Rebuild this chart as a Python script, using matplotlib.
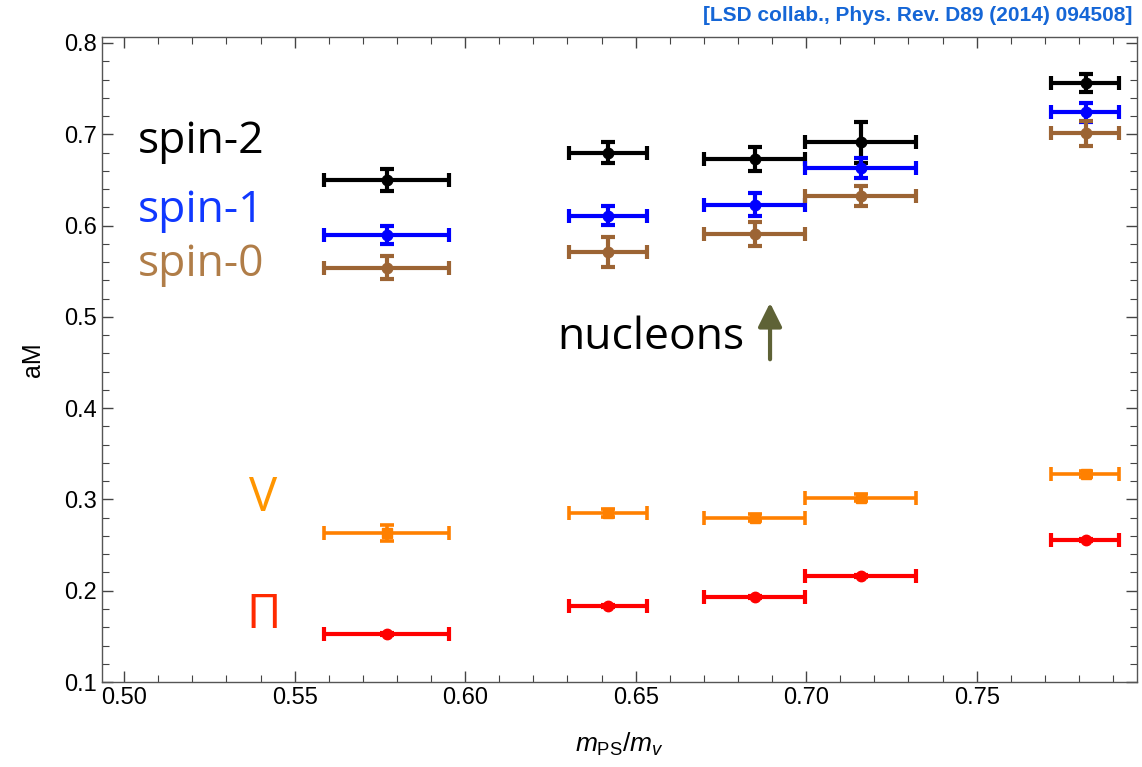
import matplotlib
matplotlib.use("Agg")
import matplotlib.pyplot as plt
from matplotlib.ticker import MultipleLocator, FormatStrFormatter

plt.rcParams['font.family'] = ['Liberation Sans', 'DejaVu Sans']
plt.rcParams['mathtext.fontset'] = 'custom'
plt.rcParams['mathtext.it'] = 'Liberation Sans:italic'
plt.rcParams['mathtext.rm'] = 'Liberation Sans'

# m_PS/m_V for the five ensembles, with the edges of the horizontal bars
x_mid = [0.577, 0.642, 0.685, 0.716, 0.782]
x_lo = [0.5587, 0.6305, 0.6701, 0.6997, 0.7718]
x_hi = [0.5953, 0.6534, 0.6997, 0.7322, 0.7918]

# baryon masses
spin2 = [0.650, 0.680, 0.673, 0.691, 0.756]
spin2_err = [0.012, 0.012, 0.013, 0.022, 0.010]
spin1 = [0.590, 0.611, 0.623, 0.663, 0.724]
spin1_err = [0.010, 0.010, 0.013, 0.011, 0.010]
spin0 = [0.554, 0.571, 0.591, 0.632, 0.701]
spin0_err = [0.013, 0.016, 0.013, 0.011, 0.014]

# meson masses
vec = [0.263, 0.285, 0.280, 0.302, 0.328]
vec_err = [0.009, 0.004, 0.004, 0.004, 0.003]
pion = [0.153, 0.183, 0.193, 0.216, 0.256]
pion_err = [0.001, 0.001, 0.001, 0.001, 0.001]

xerr = [[m - l for m, l in zip(x_mid, x_lo)], [h - m for m, h in zip(x_mid, x_hi)]]

fig = plt.figure(figsize=(11.42, 7.67), dpi=100)
ax = fig.add_axes([0.0893, 0.1108, 0.9063, 0.841])

def draw(y, yerr, color, marker='o', lw=3.0, ms=7.5):
    ax.errorbar(x_mid, y, xerr=xerr, yerr=yerr, fmt=marker, color=color,
                ecolor=color, elinewidth=lw, capsize=5, capthick=lw,
                markersize=ms, zorder=3)

draw(spin2, spin2_err, 'black')
draw(spin1, spin1_err, '#0000ff')
draw(spin0, spin0_err, '#9c6434')
draw(vec, vec_err, '#ff8000', marker='s', lw=2.6, ms=7)
draw(pion, pion_err, '#ff0000', lw=3.0, ms=7.5)

ax.set_xlim(0.4935, 0.797)
ax.set_ylim(0.1, 0.8066)
ax.xaxis.set_major_locator(MultipleLocator(0.05))
ax.xaxis.set_minor_locator(MultipleLocator(0.01))
ax.yaxis.set_major_locator(MultipleLocator(0.1))
ax.yaxis.set_minor_locator(MultipleLocator(0.02))
ax.xaxis.set_major_formatter(FormatStrFormatter('%.2f'))
ax.yaxis.set_major_formatter(FormatStrFormatter('%.1f'))
ax.tick_params(which='both', direction='in', top=True, right=True,
               colors='#444444', labelcolor='black', labelsize=17)
ax.tick_params(which='major', length=8, width=1)
ax.tick_params(which='minor', length=5, width=0.8)
for s in ax.spines.values():
    s.set_color('#555555')
    s.set_linewidth(1.0)

ax.set_xlabel(r'$m_{\mathrm{PS}}/m_v$', fontsize=19, labelpad=16)
ax.set_ylabel('aM', fontsize=18, labelpad=14)

# labels for each family
big = dict(family=['Open Sans', 'Liberation Sans', 'DejaVu Sans'])
ax.text(0.504, 0.679, 'spin-2', color='black', fontsize=32, **big)
ax.text(0.504, 0.604, 'spin-1', color='#1038ff', fontsize=32, **big)
ax.text(0.504, 0.545, 'spin-0', color='#b07d48', fontsize=32, **big)
ax.text(0.5408, 0.2873, 'V', color='#ff9500', fontsize=34, ha='center', **big)
ax.text(0.5408, 0.159, 'Π', color='#ff2a00', fontsize=34, ha='center', **big)

ax.text(0.6818, 0.477, 'nucleons', color='black', fontsize=32,
        ha='right', va='center', **big)
ax.annotate('', xy=(0.6894, 0.5184), xytext=(0.6894, 0.4505),
            arrowprops=dict(arrowstyle='-|>,head_width=0.36,head_length=0.72',
                            mutation_scale=20, lw=3, color='#5e6236'))

fig.text(0.992, 0.992, '[LSD collab., Phys. Rev. D89 (2014) 094508]',
         ha='right', va='top', color='#1566d6', fontsize=15, weight='bold')

fig.savefig('out.png', dpi=100)
